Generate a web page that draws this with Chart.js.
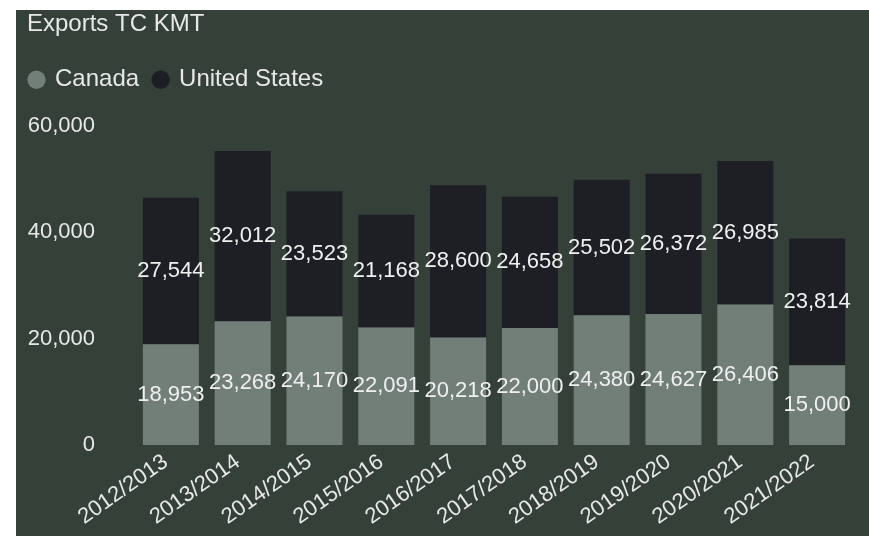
<!DOCTYPE html>
<html>
<head>
<meta charset="utf-8">
<script src="https://cdn.jsdelivr.net/npm/chart.js@4/dist/chart.umd.min.js"></script>
<style>
  html, body { margin: 0; padding: 0; background: #ffffff; }
  #wrap { position: absolute; left: 16px; top: 10px; width: 853px; height: 526px; background: #344038; }
</style>
</head>
<body>
<div id="wrap"><canvas id="c"></canvas></div>
<script>
const categories = ['2012/2013','2013/2014','2014/2015','2015/2016','2016/2017','2017/2018','2018/2019','2019/2020','2020/2021','2021/2022'];
const canadaValues = [18953, 23268, 24170, 22091, 20218, 22000, 24380, 24627, 26406, 15000];
const usValues = [27544, 32012, 23523, 21168, 28600, 24658, 25502, 26372, 26985, 23814];
const yTicks = [0, 20000, 40000, 60000];
const seriesNames = ['Canada', 'United States'];

const FONT = '"Liberation Sans", Arial, sans-serif';
const TEXT = '#e8e8e8';
Chart.defaults.font.family = FONT;
Chart.defaults.color = TEXT;

const legendTweak = {
  id: 'legendTweak',
  beforeInit(chart) {
    const lg = chart.legend;
    if (lg) {
      const orig = lg.fit;
      lg.fit = function () { orig.call(this); this.height += 24; };
    }
  },
  afterLayout(chart) {
    const lg = chart.legend;
    if (lg) { lg.left -= 12; lg.right -= 12; }
  }
};

const valueLabels = {
  id: 'valueLabels',
  afterDatasetsDraw(chart) {
    const ctx = chart.ctx;
    ctx.save();
    ctx.font = '22px ' + FONT;
    ctx.fillStyle = '#f0f0f0';
    ctx.textAlign = 'center';
    ctx.textBaseline = 'middle';
    chart.data.datasets.forEach((ds, i) => {
      const meta = chart.getDatasetMeta(i);
      meta.data.forEach((bar, j) => {
        const p = bar.getProps(['x', 'y', 'base'], true);
        ctx.fillText(ds.data[j].toLocaleString('en-US'), p.x, (p.y + p.base) / 2);
      });
    });
    ctx.restore();
  }
};

new Chart(document.getElementById('c'), {
  type: 'bar',
  data: {
    labels: categories,
    datasets: [
      { label: seriesNames[0], data: canadaValues, backgroundColor: '#727f79', borderWidth: 0 },
      { label: seriesNames[1], data: usValues, backgroundColor: '#1d1f25', borderWidth: 0 }
    ]
  },
  options: {
    responsive: true,
    maintainAspectRatio: false,
    animation: false,
    layout: { padding: { left: 11, right: 16, top: 0, bottom: 0 } },
    datasets: { bar: { categoryPercentage: 1.0, barPercentage: 0.78 } },
    plugins: {
      title: {
        display: true, text: 'Exports TC KMT', align: 'start',
        color: TEXT, font: { size: 24, weight: 'normal' },
        padding: { top: 0, bottom: 14 }
      },
      legend: {
        display: true, align: 'start',
        labels: {
          usePointStyle: true, pointStyle: 'circle', boxWidth: 13, boxHeight: 13,
          padding: 15, color: TEXT, font: { size: 24 }
        }
      },
      tooltip: { enabled: false }
    },
    scales: {
      x: {
        stacked: true,
        grid: { display: false, drawTicks: false },
        border: { display: false },
        ticks: { minRotation: 35, maxRotation: 35, padding: 4, labelOffset: -5, color: TEXT, font: { size: 22 } },
        afterFit(scale) { scale.height = 91; }
      },
      y: {
        stacked: true,
        min: 0, max: 60000,
        grid: { display: false, drawTicks: false },
        border: { display: false },
        afterBuildTicks(scale) { scale.ticks = yTicks.map(v => ({ value: v })); },
        ticks: {
          padding: 40, color: TEXT, font: { size: 22 },
          callback: (v) => Number(v).toLocaleString('en-US')
        },
        afterFit(scale) { scale.width = 108; }
      }
    }
  },
  plugins: [legendTweak, valueLabels]
});
</script>
</body>
</html>
